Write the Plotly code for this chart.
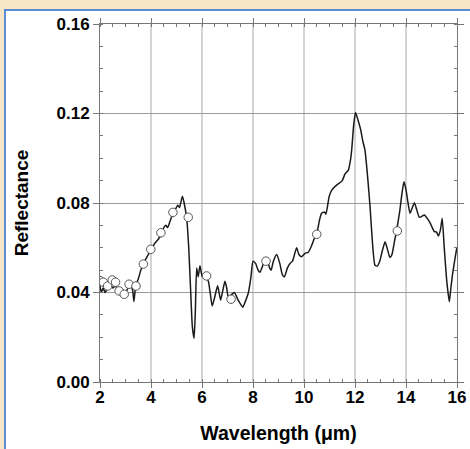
import plotly.graph_objects as go

# Spectrum (line)
wavelength = [2.00, 2.05, 2.12, 2.20, 2.30, 2.40, 2.50, 2.60, 2.70, 2.80, 2.90, 3.00, 3.10, 3.20, 3.28, 3.33,
              3.40, 3.50, 3.60, 3.75, 3.90, 4.00, 4.15, 4.30, 4.40, 4.50, 4.58, 4.65, 4.75, 4.85, 4.95, 5.05,
              5.12, 5.23, 5.30, 5.40, 5.48, 5.55, 5.62, 5.69, 5.74, 5.79, 5.85, 5.92, 6.01, 6.10, 6.20, 6.25,
              6.32, 6.40, 6.50, 6.61, 6.67, 6.73, 6.80, 6.90, 6.97, 7.03, 7.15, 7.27, 7.40, 7.50, 7.60, 7.70,
              7.82, 7.92, 8.00, 8.10, 8.20, 8.27, 8.35, 8.45, 8.55, 8.65, 8.71, 8.80, 8.93, 9.05, 9.15, 9.23,
              9.35, 9.45, 9.55, 9.71, 9.80, 9.91, 10.04, 10.17, 10.30, 10.40, 10.50, 10.60, 10.69, 10.80, 10.86,
              10.99, 11.10, 11.28, 11.40, 11.50, 11.61, 11.74, 11.82, 11.87, 11.95, 12.02, 12.12, 12.22, 12.30,
              12.39, 12.50, 12.59, 12.68, 12.78, 12.87, 12.97, 13.08, 13.18, 13.28, 13.37, 13.45, 13.55, 13.63,
              13.75, 13.85, 13.92, 14.00, 14.08, 14.16, 14.25, 14.33, 14.42, 14.52, 14.62, 14.72, 14.84, 14.94,
              15.03, 15.11, 15.20, 15.27, 15.35, 15.42, 15.50, 15.60, 15.70, 15.76, 15.83, 15.92, 15.99]
reflectance = [0.043, 0.040, 0.042, 0.040, 0.042, 0.044, 0.042, 0.043, 0.041, 0.040, 0.041, 0.040, 0.042, 0.043,
               0.041, 0.036, 0.043, 0.046, 0.050, 0.054, 0.057, 0.059, 0.062, 0.064, 0.066, 0.069, 0.070, 0.069,
               0.072, 0.075, 0.077, 0.079, 0.078, 0.083, 0.080, 0.073, 0.060, 0.042, 0.025, 0.0195, 0.032, 0.051,
               0.047, 0.052, 0.047, 0.048, 0.046, 0.045, 0.040, 0.034, 0.038, 0.043, 0.040, 0.0366, 0.040, 0.045,
               0.042, 0.038, 0.039, 0.040, 0.037, 0.035, 0.0334, 0.036, 0.040, 0.047, 0.054, 0.053, 0.050, 0.049,
               0.051, 0.054, 0.055, 0.051, 0.050, 0.054, 0.057, 0.053, 0.048, 0.047, 0.051, 0.053, 0.054, 0.060,
               0.057, 0.056, 0.0575, 0.058, 0.061, 0.064, 0.066, 0.072, 0.0754, 0.076, 0.075, 0.083, 0.086, 0.088,
               0.089, 0.090, 0.093, 0.0947, 0.099, 0.1037, 0.115, 0.1204, 0.117, 0.1129, 0.108, 0.1037, 0.091,
               0.0784, 0.063, 0.0523, 0.0518, 0.054, 0.059, 0.0627, 0.059, 0.0556, 0.057, 0.063, 0.0676, 0.076,
               0.085, 0.0895, 0.086, 0.080, 0.0754, 0.078, 0.0801, 0.077, 0.0736, 0.074, 0.0746, 0.073, 0.0712,
               0.069, 0.0672, 0.067, 0.0653, 0.068, 0.0732, 0.060, 0.045, 0.0359, 0.042, 0.0486, 0.055, 0.0598]

# Sampled points (open circles)
point_wavelength = [2.00, 2.13, 2.30, 2.48, 2.61, 2.75, 2.95, 3.14, 3.41, 3.70, 3.99, 4.39, 4.86, 5.46,
                    6.18, 7.14, 8.51, 10.50, 13.66]
point_reflectance = [0.0453, 0.0446, 0.0429, 0.0456, 0.0446, 0.0407, 0.0392, 0.0437, 0.0429, 0.0527,
                     0.0593, 0.0667, 0.0758, 0.0736, 0.0474, 0.0370, 0.0540, 0.0660, 0.0675]

x_ticks = [2, 4, 6, 8, 10, 12, 14, 16]
y_ticks = [0.00, 0.04, 0.08, 0.12, 0.16]
y_ticklabels = ["0.00", "0.04", "0.08", "0.12", "0.16"]

fig = go.Figure()
fig.add_trace(go.Scatter(x=wavelength, y=reflectance, mode="lines",
                         line=dict(color="#1a1a1a", width=1.5, shape="spline", smoothing=0.5),
                         showlegend=False, hoverinfo="skip"))
fig.add_trace(go.Scatter(x=point_wavelength, y=point_reflectance, mode="markers",
                         marker=dict(symbol="circle", size=8.5, color="white",
                                     line=dict(color="#555555", width=1)),
                         showlegend=False))

L, R, T, B = 100, 13, 24, 67
W, H = 470, 449
pw, ph = W - L - R, H - T - B

def px(xp):
    return (xp - L) / pw

def py(yp):
    return (H - B - yp) / ph

fig.add_shape(type="rect", xref="paper", yref="paper",
              x0=px(5), x1=px(480), y0=py(460), y1=py(10),
              fillcolor="white", line=dict(color="#5b8ed6", width=2), layer="below")

FONT = "Liberation Sans, Arial, sans-serif"
tickfont = dict(family=FONT, size=17, color="black", weight="bold")

fig.update_xaxes(range=[2, 16], tickvals=x_ticks, ticks="outside", ticklen=5, tickwidth=1,
                 tickcolor="#777777", showline=True, linecolor="#777777", linewidth=1,
                 mirror="allticks", showgrid=True, gridcolor="#d4d4d4", gridwidth=1.5,
                 zeroline=False, tickfont=tickfont, automargin=False, ticklabelstandoff=-5,
                 minor=dict(dtick=0.5, ticks="inside", ticklen=3, tickcolor="#777777", showgrid=False),
                 title=dict(text="Wavelength (μm)", font=dict(family=FONT, size=19.5, color="black",
                                                               weight="bold"),
                            standoff=19))
fig.update_yaxes(range=[0, 0.16], tickvals=y_ticks, ticktext=y_ticklabels, ticks="outside", ticklen=6,
                 tickwidth=1, tickcolor="#777777", showline=True, linecolor="#777777", linewidth=1,
                 mirror="allticks", showgrid=True, gridcolor="#9a9a9a", gridwidth=1,
                 zeroline=False, tickfont=tickfont, automargin=False,
                 minor=dict(dtick=0.01, ticks="inside", ticklen=3, tickcolor="#777777", showgrid=False),
                 title=dict(text="Reflectance", font=dict(family=FONT, size=19, color="black",
                                                          weight="bold"),
                            standoff=22))

fig.update_layout(width=W, height=H, margin=dict(l=L, r=R, t=T, b=B, autoexpand=False),
                  paper_bgcolor="#f8e6c6", plot_bgcolor="white")

fig.write_html("out.html", config={"displayModeBar": False},
               post_script="document.body.style.margin='0';")
